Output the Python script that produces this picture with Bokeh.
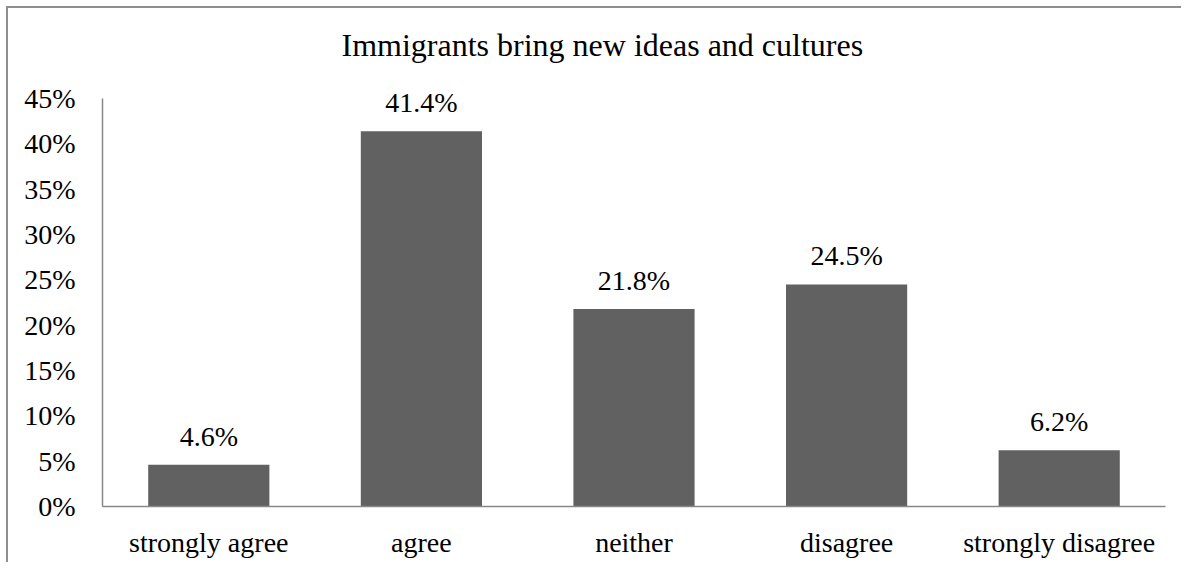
from bokeh.plotting import figure
from bokeh.models import ColumnDataSource, FixedTicker, PrintfTickFormatter, LabelSet, Title, FactorRange, Range1d
from bokeh.embed import file_html
from bokeh.resources import INLINE

categories = ["strongly agree", "agree", "neither", "disagree", "strongly disagree"]
values = [4.6, 41.4, 21.8, 24.5, 6.2]
labels = ["4.6%", "41.4%", "21.8%", "24.5%", "6.2%"]
y_ticks = [0, 5, 10, 15, 20, 25, 30, 35, 40, 45]
title_text = "Immigrants bring new ideas and cultures"

FONT = "Liberation Serif"

src = ColumnDataSource(dict(cat=categories, val=values, lab=labels))

p = figure(x_range=FactorRange(*categories, range_padding=0), y_range=Range1d(0, 47),
           width=1181, height=562, output_backend="svg", toolbar_location=None,
           min_border_left=102, min_border_right=16, min_border_top=80, min_border_bottom=56)
p.title = Title(text=title_text, text_font=FONT, text_font_size="32px", text_font_style="normal",
                align="left", text_color="#000000", standoff=36, offset=239)

p.vbar(x="cat", top="val", width=0.57, source=src, fill_color="#616161", line_color=None)

p.add_layout(LabelSet(x="cat", y="val", text="lab", source=src, text_align="center",
                      text_baseline="alphabetic", y_offset=19, text_font=FONT,
                      text_font_size="28px", text_color="#000000"))

p.outline_line_color = None
p.xgrid.grid_line_color = None
p.ygrid.grid_line_color = None
p.background_fill_color = None
p.border_fill_color = None

for ax in (p.xaxis[0], p.yaxis[0]):
    ax.axis_line_color = "#888888"
    ax.axis_line_width = 1.5
    ax.major_tick_line_color = None
    ax.minor_tick_line_color = None
    ax.major_tick_out = 0
    ax.major_tick_in = 0
    ax.major_label_text_font = FONT
    ax.major_label_text_font_size = "28px"
    ax.major_label_text_color = "#000000"

p.yaxis.ticker = FixedTicker(ticks=y_ticks)
p.yaxis.bounds = (0, 45)
p.yaxis.formatter = PrintfTickFormatter(format="%d%%")
p.yaxis.major_label_standoff = 27
p.xaxis.major_label_standoff = 20

p.styles = {
    "background": "linear-gradient(#8f8f8f, #8f8f8f) 6px 6px / 2px 100% no-repeat, "
                  "linear-gradient(#8f8f8f, #8f8f8f) 6px 6px / 100% 2px no-repeat, white"
}

open("out.html", "w").write(file_html(p, INLINE))
